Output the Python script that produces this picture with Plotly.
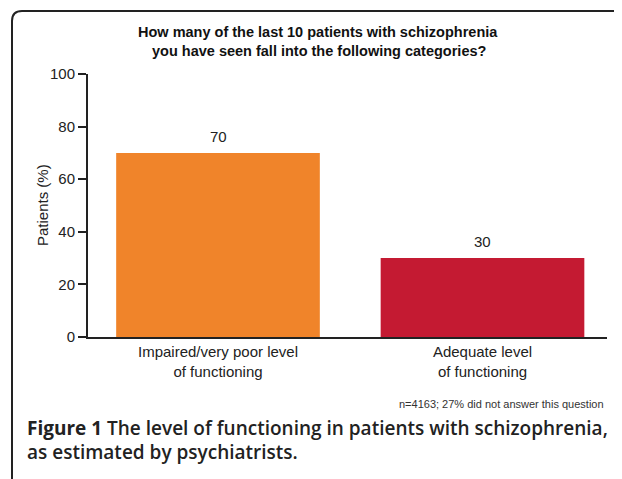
import plotly.graph_objects as go

categories = ["Impaired/very poor level<br>of functioning", "Adequate level<br>of functioning"]
values = [70, 30]
bar_colors = ["#F0842A", "#C41A32"]
value_labels = ["70", "30"]
y_tick_vals = [0, 20, 40, 60, 80, 100]

title_lines = ["How many of the last 10 patients with schizophrenia",
               "you have seen fall into the following categories?"]
footnote = "n=4163; 27% did not answer this question"
caption_bold = "Figure 1"
caption_line1 = " The level of functioning in patients with schizophrenia,"
caption_line2 = "as estimated by psychiatrists."

W, H = 622, 479
OFF = 8  # page body margin offset
L, R, T, B = 88 - OFF, 607 - OFF, 74 - OFF, 337 - OFF

def px(x):
    return (x - OFF - L) / (R - L)

def py(y):
    return (B - (y - OFF)) / (B - T)

FONT = "Liberation Sans, Arial, Helvetica, sans-serif"
CAPFONT = "Open Sans, Noto Sans, sans-serif"

fig = go.Figure()
fig.add_trace(go.Bar(
    x=categories, y=values, marker=dict(color=bar_colors, line=dict(width=0)),
    width=0.77, hoverinfo="skip", showlegend=False,
))

for c, v, t in zip(categories, values, value_labels):
    fig.add_annotation(x=c, y=v, text=t, showarrow=False, yanchor="middle",
                       yshift=16.5, font=dict(family=FONT, size=15, color="#222"))

# title
fig.add_annotation(xref="paper", yref="paper", x=px(318), y=py(32), text="<b>%s</b>" % title_lines[0],
                   showarrow=False, xanchor="center", yanchor="middle",
                   font=dict(family=FONT, size=14.5, color="#111"))
fig.add_annotation(xref="paper", yref="paper", x=px(319), y=py(51), text="<b>%s</b>" % title_lines[1],
                   showarrow=False, xanchor="center", yanchor="middle",
                   font=dict(family=FONT, size=14.5, color="#111"))

# y axis title
fig.add_annotation(xref="paper", yref="paper", x=px(42), y=py(205), text="Patients (%)",
                   textangle=-90, showarrow=False, xanchor="center", yanchor="middle",
                   font=dict(family=FONT, size=15, color="#222"))

# footnote
fig.add_annotation(xref="paper", yref="paper", x=px(606), y=py(404), text=footnote,
                   showarrow=False, xanchor="right", yanchor="middle",
                   font=dict(family=FONT, size=11, color="#333"))

# caption
fig.add_annotation(xref="paper", yref="paper", x=px(25), y=py(428),
                   text="<b>%s</b>%s" % (caption_bold, caption_line1),
                   showarrow=False, xanchor="left", yanchor="middle",
                   font=dict(family=CAPFONT, size=19, color="#222", weight=600))
fig.add_annotation(xref="paper", yref="paper", x=px(25), y=py(452),
                   text=caption_line2,
                   showarrow=False, xanchor="left", yanchor="middle",
                   font=dict(family=CAPFONT, size=19, color="#222", weight=600))

# rounded border (open at right/bottom, extending beyond the picture)
x0, y0, r = 12, 11, 10
path = "M %f,%f L %f,%f Q %f,%f %f,%f L %f,%f" % (
    px(x0), py(495), px(x0), py(y0 + r), px(x0), py(y0), px(x0 + r), py(y0), px(640), py(y0))
fig.add_shape(type="path", xref="paper", yref="paper", path=path,
              line=dict(color="#222", width=2), layer="above")

fig.update_layout(
    width=W, height=H,
    margin=dict(l=L, r=W - R, t=T, b=H - B, pad=0),
    paper_bgcolor="white", plot_bgcolor="white",
    font=dict(family=FONT, size=15, color="#222"),
    xaxis=dict(range=[-0.4915, 1.4707], showline=True, linecolor="#222", linewidth=2,
               ticks="", showgrid=False, zeroline=False,
               tickfont=dict(family=FONT, size=15, color="#222"), fixedrange=True),
    yaxis=dict(range=[0, 100], tickvals=y_tick_vals, showline=True, linecolor="#222",
               linewidth=2, ticks="outside", ticklen=8, tickwidth=2, tickcolor="#222",
               showgrid=False, zeroline=False,
               tickfont=dict(family=FONT, size=15, color="#222"), fixedrange=True),
)

fig.write_html("out.html")
